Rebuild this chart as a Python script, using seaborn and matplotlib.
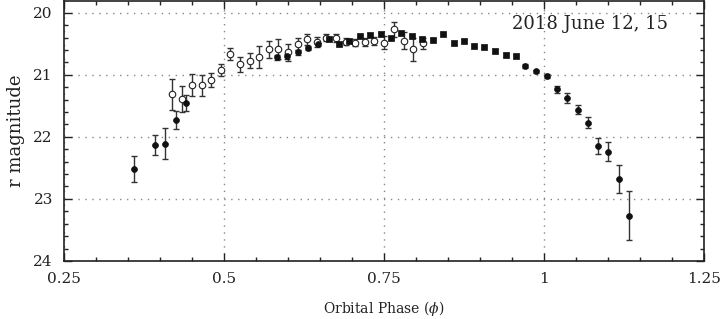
import numpy as np
import pandas as pd
import matplotlib
matplotlib.use("Agg")
import matplotlib.pyplot as plt
import seaborn as sns
from matplotlib.ticker import MultipleLocator

# Filled circles (with error bars)
filled_phase = [0.359, 0.392, 0.408, 0.4245, 0.4406, 0.583, 0.599, 0.615, 0.632, 0.647,
                0.971, 0.9875, 1.004, 1.020, 1.036, 1.053, 1.069, 1.084, 1.1005, 1.117, 1.133]
filled_mag = [22.52, 22.13, 22.11, 21.73, 21.45, 20.72, 20.70, 20.64, 20.57, 20.51,
              20.86, 20.945, 21.02, 21.235, 21.375, 21.56, 21.77, 22.15, 22.24, 22.68, 23.27]
filled_err = [0.215, 0.167, 0.25, 0.148, 0.126, 0.04, 0.04, 0.035, 0.03, 0.03,
              0.03, 0.03, 0.03, 0.056, 0.075, 0.075, 0.09, 0.124, 0.15, 0.22, 0.40]

# Filled squares (error bars smaller than symbol)
square_phase = [0.664, 0.680, 0.696, 0.7125, 0.7286, 0.745, 0.761, 0.777, 0.794, 0.810,
                0.826, 0.842, 0.859, 0.875, 0.891, 0.907, 0.923, 0.940, 0.956]
square_mag = [20.43, 20.50, 20.45, 20.38, 20.36, 20.35, 20.40, 20.33, 20.37, 20.42,
              20.44, 20.35, 20.48, 20.45, 20.53, 20.55, 20.61, 20.68, 20.70]

# Open circles (with error bars)
open_phase = [0.419, 0.434, 0.450, 0.465, 0.480, 0.495, 0.510, 0.525, 0.540, 0.555,
              0.570, 0.585, 0.600, 0.615, 0.630, 0.645, 0.660, 0.675, 0.690, 0.705,
              0.720, 0.735, 0.750, 0.766, 0.781, 0.796, 0.811]
open_mag = [21.31, 21.39, 21.17, 21.17, 21.09, 20.92, 20.67, 20.83, 20.77, 20.72,
            20.59, 20.59, 20.64, 20.50, 20.43, 20.47, 20.40, 20.41, 20.47, 20.48,
            20.47, 20.45, 20.48, 20.27, 20.45, 20.59, 20.49]
open_err = [0.25, 0.215, 0.175, 0.164, 0.113, 0.10, 0.094, 0.12, 0.12, 0.177,
            0.137, 0.16, 0.14, 0.094, 0.086, 0.08, 0.06, 0.06, 0.055, 0.055,
            0.065, 0.065, 0.107, 0.12, 0.14, 0.19, 0.09]

x_ticks = [0.25, 0.5, 0.75, 1.0, 1.25]
x_ticklabels = ["0.25", "0.5", "0.75", "1", "1.25"]
y_ticks = [20, 21, 22, 23, 24]

sns.set_theme(style="ticks")
plt.rcParams["font.family"] = ["DejaVu Serif"]
plt.rcParams["mathtext.fontset"] = "dejavuserif"

fig = plt.figure(figsize=(7.21, 3.19), dpi=100)
ax = fig.add_axes([0.0888, 0.182, 0.8876, 0.815])

df_f = pd.DataFrame({"phase": filled_phase, "mag": filled_mag})
df_s = pd.DataFrame({"phase": square_phase, "mag": square_mag})
df_o = pd.DataFrame({"phase": open_phase, "mag": open_mag})

ax.errorbar(filled_phase, filled_mag, yerr=filled_err, fmt="none", ecolor="#333333",
            elinewidth=1.0, capsize=2.3, capthick=1.0, zorder=2)
ax.errorbar(open_phase, open_mag, yerr=open_err, fmt="none", ecolor="#333333",
            elinewidth=1.0, capsize=2.3, capthick=1.0, zorder=2)

sns.scatterplot(data=df_o, x="phase", y="mag", ax=ax, marker="o", s=22,
                facecolor="white", edgecolor="#222222", linewidth=0.8, zorder=3)
sns.scatterplot(data=df_f, x="phase", y="mag", ax=ax, marker="o", s=18,
                color="#111111", edgecolor="#111111", linewidth=0.5, zorder=4)
sns.scatterplot(data=df_s, x="phase", y="mag", ax=ax, marker="s", s=16,
                color="#111111", edgecolor="#111111", linewidth=0.5, zorder=4)

ax.set_xlim(0.25, 1.25)
ax.set_ylim(24, 19.81)
ax.set_xticks(x_ticks)
ax.set_xticklabels(x_ticklabels)
ax.set_yticks(y_ticks)
ax.xaxis.set_minor_locator(MultipleLocator(0.05))
ax.yaxis.set_minor_locator(MultipleLocator(0.2))
ax.tick_params(which="both", direction="in", top=True, right=True, labelsize=11,
               colors="#222222")
ax.tick_params(which="major", length=6, width=1, pad=8)
ax.tick_params(which="minor", length=3, width=1)
ax.grid(True, which="major", linestyle=(0, (1, 4)), color="#888888", linewidth=1.0)
for sp in ax.spines.values():
    sp.set_visible(True)
    sp.set_linewidth(1.2)
    sp.set_color("#222222")

ax.set_xlabel(r"Orbital Phase ($\phi$)", fontsize=10, labelpad=9, color="#222222")
ax.set_ylabel("r magnitude", fontsize=13, labelpad=6, color="#222222")
ax.text(0.95, 20.18, "2018 June 12, 15", fontsize=13, va="center", ha="left",
        color="#222222")

fig.savefig("out.png", dpi=100)
